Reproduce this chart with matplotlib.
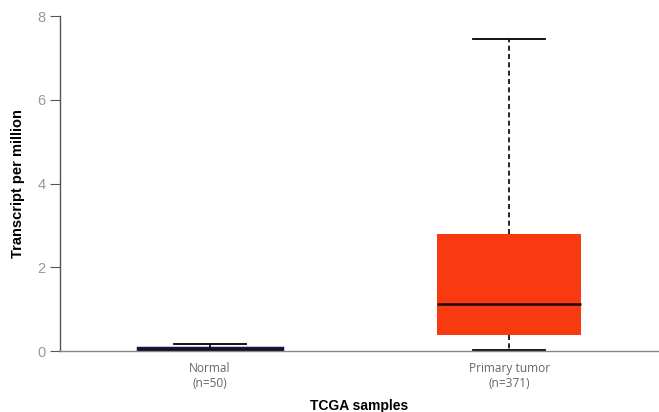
import matplotlib
matplotlib.use("Agg")
import matplotlib.pyplot as plt

groups = ["Normal\n(n=50)", "Primary tumor\n(n=371)"]
whislo = [0.0, 0.02]
q1 = [0.0, 0.38]
med = [0.03, 1.12]
q3 = [0.07, 2.80]
whishi = [0.16, 7.45]
box_colors = ["#14144a", "#f93a10"]
yticks = [0, 2, 4, 6, 8]

plt.rcParams["font.family"] = ["Liberation Sans", "DejaVu Sans"]

fig = plt.figure(figsize=(6.59, 4.12), dpi=100)
ax = fig.add_axes([0.091, 0.148, 0.909, 0.813])

stats = []
for i, g in enumerate(groups):
    stats.append(dict(label=g, whislo=whislo[i], q1=q1[i], med=med[i],
                      q3=q3[i], whishi=whishi[i], fliers=[]))

bp = ax.bxp(stats, positions=[1, 2], widths=0.48, patch_artist=True,
            showfliers=False,
            whiskerprops=dict(color="black", linestyle=(0, (3, 2)), linewidth=1.2),
            capprops=dict(color="black", linewidth=1.3),
            medianprops=dict(color="#1a0a05", linewidth=1.8),
            boxprops=dict(linewidth=0))
for patch, c in zip(bp["boxes"], box_colors):
    patch.set_facecolor(c)
    patch.set_edgecolor(c)
bp["boxes"][0].set_linewidth(2.5)

ax.set_xlim(0.5, 2.5)
ax.set_ylim(0, 8)
ax.set_yticks(yticks)
ax.set_yticklabels([str(t) for t in yticks])

for s in ["top", "right"]:
    ax.spines[s].set_visible(False)
ax.spines["left"].set_color("#555555")
ax.spines["bottom"].set_color("#888888")
ax.spines["left"].set_linewidth(1.0)
ax.spines["bottom"].set_linewidth(1.0)

ax.tick_params(axis="y", colors="#555555", labelsize=10.5, length=7.5, width=0.8,
               pad=3)
ax.tick_params(axis="y", labelcolor="#999999")
ax.tick_params(axis="x", length=0, labelsize=8.6, labelcolor="#666666", pad=8)
for lbl in ax.get_xticklabels():
    lbl.set_family(["Open Sans", "DejaVu Sans"])
    lbl.set_linespacing(1.15)

ax.set_ylabel("Transcript per million", fontsize=10.5, fontweight="bold", labelpad=9)
ax.set_xlabel("TCGA samples", fontsize=10, fontweight="bold", labelpad=7)

fig.savefig("out.png", dpi=100)
